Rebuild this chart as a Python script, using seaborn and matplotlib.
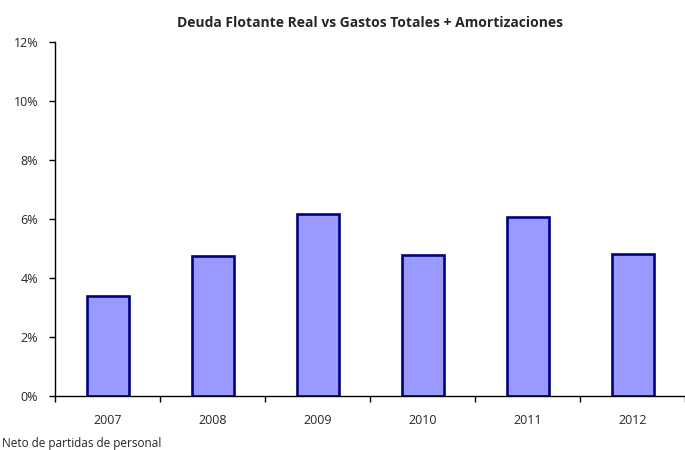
import pandas as pd
import matplotlib
matplotlib.use("Agg")
import matplotlib.pyplot as plt
from matplotlib.ticker import FuncFormatter
import seaborn as sns

sns.set_style("white")
plt.rcParams['font.family'] = ['Open Sans', 'DejaVu Sans']

# Data
years = ["2007", "2008", "2009", "2010", "2011", "2012"]
ratios = [3.39, 4.74, 6.17, 4.78, 6.06, 4.81]  # percent

df = pd.DataFrame({"year": years, "ratio": ratios})

fig = plt.figure(figsize=(6.85, 4.5), dpi=100)
ax = fig.add_axes([0.0803, 0.12, 0.9197, 0.7867])

sns.barplot(data=df, x="year", y="ratio", color="#9999FF", saturation=1,
            width=0.4, edgecolor="#000080", linewidth=1.9, ax=ax)

ax.set_ylim(0, 12)
ax.set_xlim(-0.5, len(years) - 0.5)
ax.set_yticks(range(0, 13, 2))
ax.yaxis.set_major_formatter(FuncFormatter(lambda v, p: f"{v:.0f}%"))

# x ticks sit between categories, labels at centres
ax.set_xticks([i + 0.5 for i in range(-1, len(years))], minor=True)
ax.tick_params(axis="x", which="major", length=0, labelsize=9, pad=13)
ax.tick_params(axis="x", which="minor", length=4, width=1, direction="out", color="black")
ax.tick_params(axis="y", length=4, width=1, direction="out", color="black", labelsize=9, pad=8)
ax.xaxis.set_ticks_position("bottom")
ax.yaxis.set_ticks_position("left")

sns.despine(ax=ax, top=True, right=True)
for side in ("left", "bottom"):
    ax.spines[side].set_color("black")
    ax.spines[side].set_linewidth(1)

ax.set_xlabel("")
ax.set_ylabel("")
ax.set_title("Deuda Flotante Real vs Gastos Totales + Amortizaciones",
             fontsize=10, fontweight="bold", pad=11)

fig.text(0.003, 0.006, "Neto de partidas de personal", fontsize=8.5)

plt.savefig("out.png", dpi=100)
